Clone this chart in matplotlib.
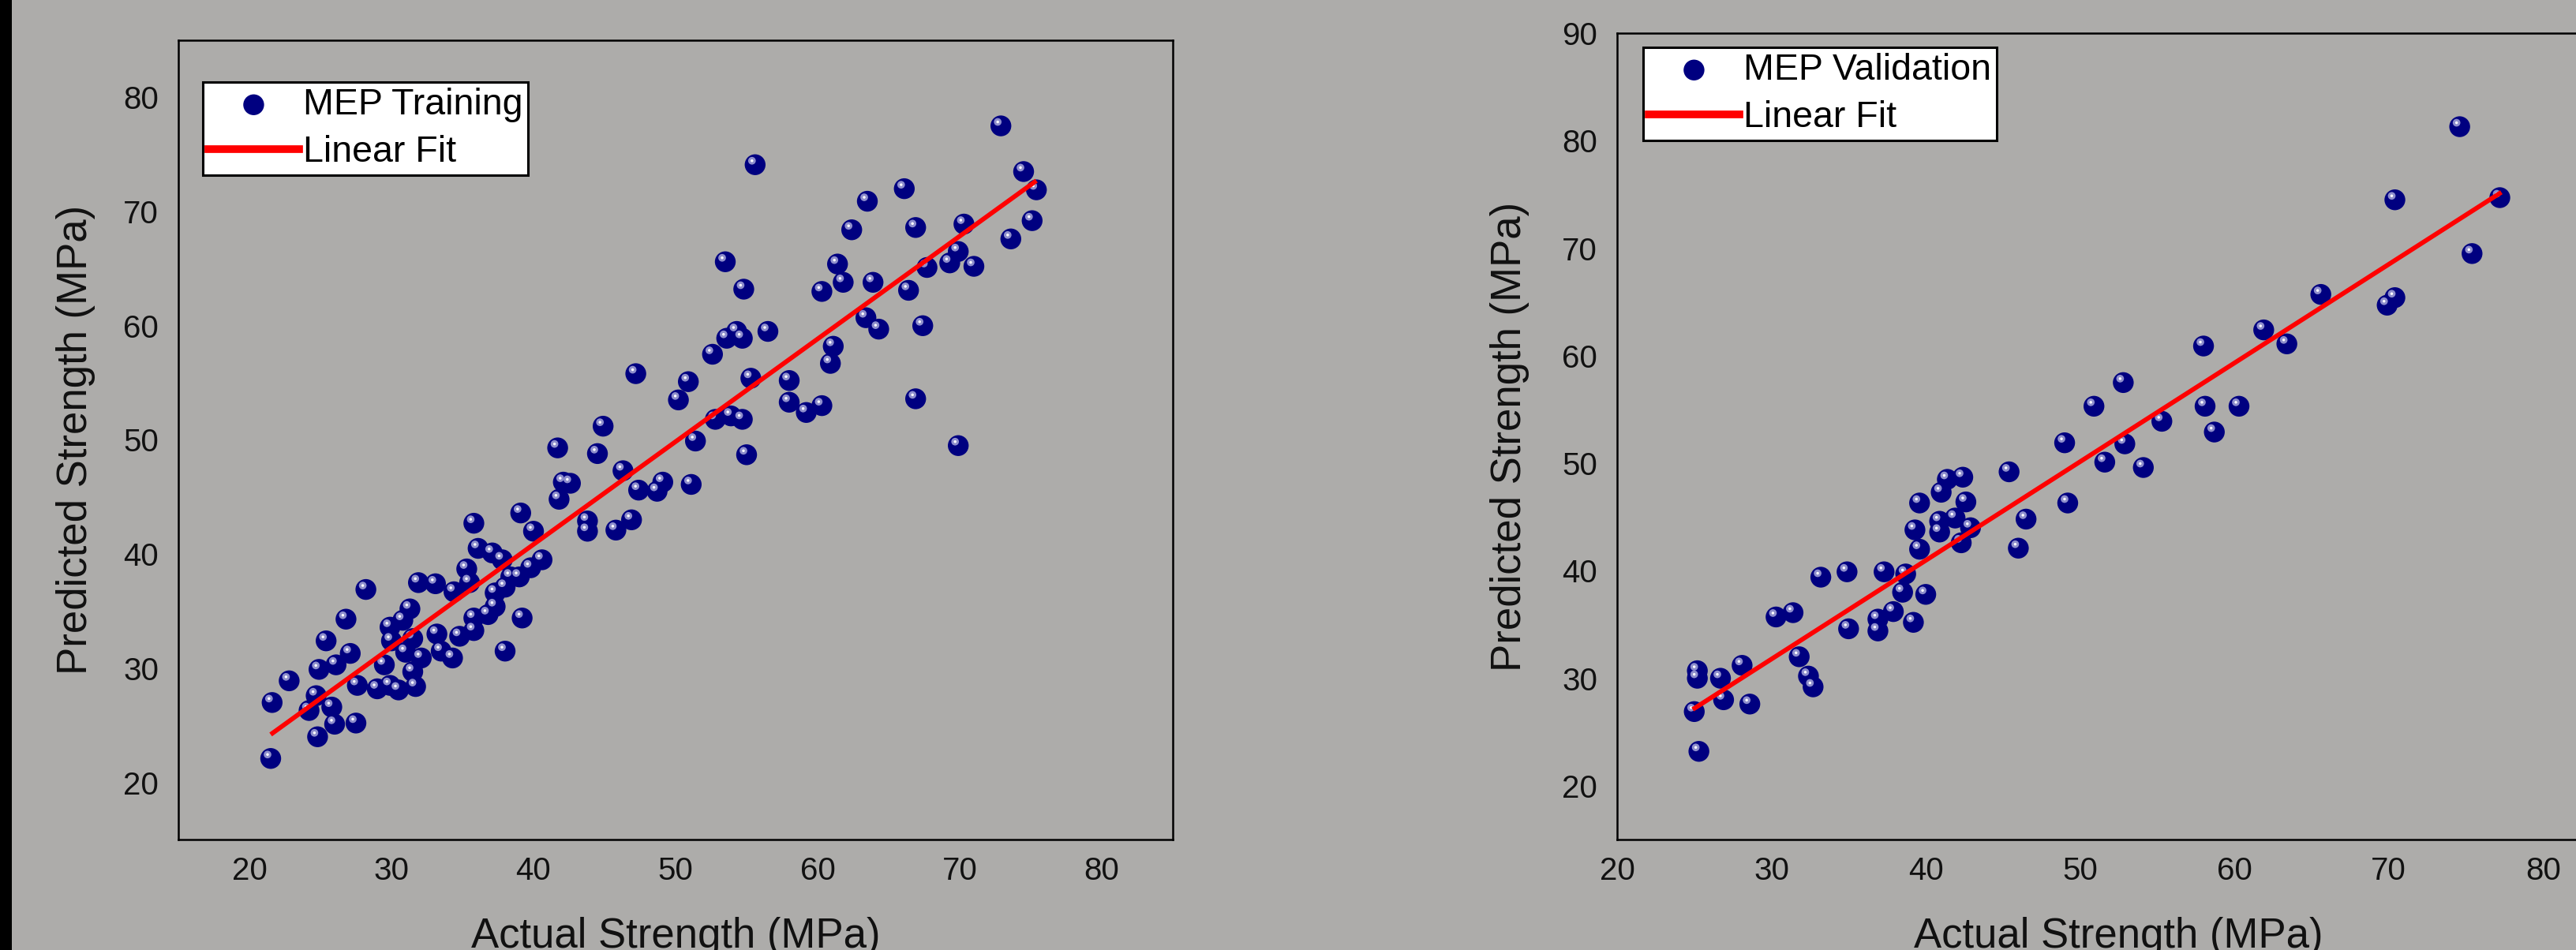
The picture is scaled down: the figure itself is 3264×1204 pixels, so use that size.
import numpy as np
import matplotlib
matplotlib.use('Agg')
import matplotlib.pyplot as plt
from matplotlib.transforms import offset_copy
from matplotlib.patches import Rectangle
from matplotlib.lines import Line2D

plt.rcParams['font.family'] = ['Liberation Sans', 'DejaVu Sans']

# ---------------- data ----------------
train_actual = [21.5, 21.6, 22.8, 24.8, 26.0, 27.5, 25.8, 24.7, 24.2, 24.9, 26.1, 27.1, 25.4, 26.8, 28.2, 27.6,
                29.0, 29.9, 30.5, 31.7, 29.5, 31.5, 32.1, 31.0, 30.0, 29.9, 30.8, 31.3, 31.5, 33.2, 33.5, 34.3,
                34.8, 35.8, 35.8, 36.8, 37.3, 37.3, 38.0, 38.0, 39.2, 34.4, 35.3, 35.5, 31.9, 33.1, 35.8, 36.1,
                37.1, 37.8, 38.4, 39.0, 39.8, 40.6, 39.1, 40.0,
                43.8, 43.8, 45.8, 46.9, 41.8, 42.1, 42.6, 41.7, 44.5, 44.9, 46.3, 47.4, 48.7, 49.1, 51.1, 47.2,
                50.9, 50.2, 51.4, 52.8, 53.9, 54.7, 55.0, 52.6, 53.6, 54.3, 54.7, 56.5, 55.3, 58.0, 58.0, 59.2,
                60.3, 60.9, 61.1, 63.4, 64.3, 67.4, 66.9, 69.9, 53.5, 54.8, 55.6, 60.3, 61.4, 61.8, 63.9, 62.4,
                63.5, 66.1, 66.9, 66.4, 67.7, 69.3, 69.9, 71.0, 70.3, 72.9, 74.5, 75.4, 75.1, 73.6]
train_pred = [22.1, 27.0, 28.9, 24.0, 25.1, 25.2, 26.6, 27.6, 26.3, 29.9, 30.3, 31.3, 32.4, 34.3, 36.9, 28.5,
              28.2, 28.5, 28.1, 28.4, 30.3, 29.7, 30.9, 31.4, 32.4, 33.6, 34.2, 35.2, 32.6, 33.0, 31.5, 30.9,
              32.8, 34.4, 33.3, 34.7, 35.4, 36.6, 37.1, 31.5, 34.4, 36.7, 38.7, 37.5, 37.5, 37.4, 42.7, 40.5,
              40.1, 39.5, 38.0, 38.0, 38.8, 39.5, 43.6, 42.0,
              42.9, 42.0, 42.1, 43.0, 44.8, 46.3, 46.2, 49.3, 48.8, 51.2, 47.3, 45.6, 45.5, 46.3, 46.1, 55.8,
              55.1, 53.5, 49.9, 51.8, 52.1, 51.8, 48.7, 57.5, 58.9, 59.5, 58.9, 59.5, 55.4, 55.2, 53.3, 52.4,
              53.0, 56.7, 58.2, 60.7, 59.7, 60.0, 53.6, 49.5, 65.6, 63.2, 74.1, 63.0, 65.4, 63.8, 63.8, 68.4,
              70.9, 72.0, 68.6, 63.1, 65.1, 65.5, 66.5, 65.2, 68.9, 77.5, 73.5, 71.9, 69.2, 67.6]
train_fit_x = [21.5, 75.4]
train_fit_y = [24.2, 72.7]

val_actual = [25.3, 25.0, 25.2, 25.2, 26.7, 26.9, 28.1, 28.6, 30.3, 31.4, 31.8, 32.4, 32.7, 33.2, 34.9,
              35.0, 37.3, 38.7, 38.5, 40.0, 37.9, 36.9, 36.9, 39.2, 39.6, 39.3, 39.6, 41.0, 41.4, 42.4,
              42.6, 40.9, 40.9, 41.9, 42.3, 42.9, 45.4, 46.5, 49.2, 46.0, 49.0, 50.9, 52.8, 51.6, 52.9,
              54.1, 55.3, 58.1, 58.0, 60.3, 58.7, 61.9, 63.4, 65.6, 69.9, 70.4, 70.4, 75.4, 74.6, 77.2]
val_pred = [23.2, 26.9, 30.7, 30.0, 30.0, 28.0, 31.2, 27.6, 35.7, 36.1, 32.0, 30.2, 29.2, 39.4, 39.9,
            34.6, 39.9, 39.7, 38.0, 37.8, 36.2, 35.5, 34.4, 35.2, 46.3, 43.8, 42.0, 47.3, 48.5, 48.7,
            46.4, 44.6, 43.6, 44.9, 42.6, 44.0, 49.2, 44.8, 46.3, 42.1, 51.9, 55.3, 57.5, 50.1, 51.8,
            49.6, 53.9, 55.3, 60.9, 55.3, 52.9, 62.4, 61.1, 65.7, 64.7, 65.4, 74.5, 69.5, 81.3, 74.7]
val_fit_x = [24.9, 77.3]
val_fit_y = [27.1, 75.2]

x_ticks = [20, 30, 40, 50, 60, 70, 80]
train_y_ticks = [20, 30, 40, 50, 60, 70, 80]
val_y_ticks = [20, 30, 40, 50, 60, 70, 80, 90]

# ---------------- styling ----------------
BG = '#adacaa'
NAVY = '#000080'
W, H = 3264, 1204

fig = plt.figure(figsize=(W / 100, H / 100), dpi=100, facecolor=BG)
fig.patches.append(Rectangle((0, 0), 15 / W, 1, transform=fig.transFigure,
                             facecolor='black', edgecolor='none', zorder=10))


def px_axes(l, t, r, b):
    return fig.add_axes([l / W, 1 - b / H, (r - l) / W, (b - t) / H])


def panel(ax, xs, ys, fx, fy, label, xlim, ylim, yticks, leg_px, ylab_px, ax_px):
    l, t, r, b = ax_px
    aw, ah = r - l, b - t
    ax.set_facecolor(BG)
    sc = ax.scatter(xs, ys, s=19 ** 2, c=NAVY, edgecolors='none', zorder=3)
    hl = offset_copy(ax.transData, fig=fig, x=-4, y=5, units='dots')
    ax.scatter(xs, ys, s=7 ** 2, c='#8e8ecc', edgecolors='none', transform=hl, zorder=4)
    ax.scatter(xs, ys, s=2.5 ** 2, c='white', edgecolors='none', transform=hl, zorder=5)
    ax.plot(fx, fy, color='#ff0000', lw=4.2, zorder=6, solid_capstyle='butt')
    ax.set_xlim(*xlim)
    ax.set_ylim(*ylim)
    ax.set_xticks(x_ticks)
    ax.set_yticks(yticks)
    ax.tick_params(axis='both', length=0, labelsize=29, colors='#111111')
    ax.tick_params(axis='x', pad=15)
    ax.tick_params(axis='y', pad=18)
    for sp in ax.spines.values():
        sp.set_linewidth(1.8)
        sp.set_color('black')
    ax.set_xlabel('Actual Strength (MPa)', fontsize=38, va='baseline', color='#111111')
    ax.xaxis.set_label_coords(0.5, -(1201 - b) / ah)
    ax.set_ylabel('Predicted Strength (MPa)', fontsize=38, va='center', color='#111111')
    ax.yaxis.set_label_coords(-(l - ylab_px) / aw, 0.5)
    lx, ly = leg_px
    proxy_line = Line2D([], [], color='#ff0000', lw=7)
    leg = ax.legend([sc, proxy_line], [label, 'Linear Fit'], loc='upper left',
                    bbox_to_anchor=((lx - l) / aw, 1 - (ly - t) / ah), borderaxespad=0,
                    fontsize=33.5, handlelength=2.47, handletextpad=0.1, borderpad=0.15,
                    labelspacing=0.34, frameon=True, fancybox=False, edgecolor='black',
                    facecolor='white', framealpha=1, scatterpoints=1)
    leg.get_frame().set_linewidth(2.2)
    leg.set_zorder(20)


ax1_px = (226, 51, 1486, 1064)
ax2_px = (2049, 42, 3320, 1064)
ax1 = px_axes(*ax1_px)
ax2 = px_axes(*ax2_px)

panel(ax1, train_actual, train_pred, train_fit_x, train_fit_y, 'MEP Training',
      (15, 85), (15, 85), train_y_ticks, (257, 104), 96, ax1_px)
panel(ax2, val_actual, val_pred, val_fit_x, val_fit_y, 'MEP Validation',
      (20, 85), (15, 90), val_y_ticks, (2082, 60), 1913, ax2_px)

fig.savefig('out.png', dpi=100, facecolor=BG)
